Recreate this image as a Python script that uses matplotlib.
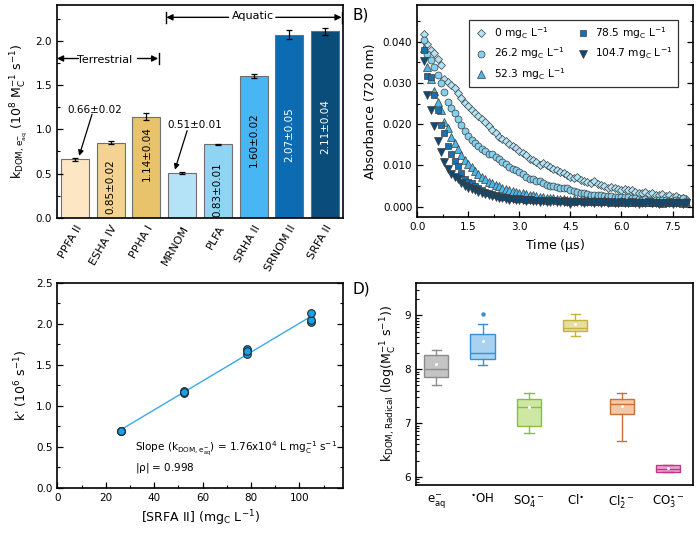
import numpy as np
import matplotlib
matplotlib.use('Agg')
import matplotlib.pyplot as plt
from matplotlib.ticker import MultipleLocator, FixedLocator, FormatStrFormatter

plt.rcParams['font.family'] = ['DejaVu Sans']
plt.rcParams['mathtext.default'] = 'regular'

# ---- panel A: bimolecular rate constants per isolate
isolates = ['PPFA II', 'ESHA IV', 'PPHA I', 'MRNOM', 'PLFA', 'SRHA II', 'SRNOM II', 'SRFA II']
k_dom = [0.66, 0.85, 1.14, 0.51, 0.83, 1.60, 2.07, 2.11]
k_err = [0.02, 0.02, 0.04, 0.01, 0.01, 0.02, 0.05, 0.04]
bar_colors = ['#fde6c3', '#f3d292', '#e9c36b', '#b4e3f8', '#8fd4f3', '#48b6f2', '#0b6cb4', '#0a4c7a']

# ---- panel B: transient absorbance decays
t_us = np.round(np.arange(0.2, 7.95, 0.1), 1)
conc_labels = ['0', '26.2', '52.3', '78.5', '104.7']
abs_0 = [0.0420, 0.0395, 0.0380, 0.0372, 0.0358, 0.0345, 0.0310, 0.0302, 0.0296, 0.0288,
         0.0276, 0.0264, 0.0252, 0.0244, 0.0235, 0.0227, 0.0220, 0.0212, 0.0206, 0.0196,
         0.0186, 0.0178, 0.0170, 0.0165, 0.0158, 0.0152, 0.0148, 0.0142, 0.0136, 0.0130,
         0.0124, 0.0116, 0.0112, 0.0108, 0.0100, 0.0106, 0.0102, 0.0096, 0.0092, 0.0088,
         0.0084, 0.0081, 0.0076, 0.0072, 0.0069, 0.0072, 0.0065, 0.0063, 0.0060, 0.0058,
         0.0061, 0.0055, 0.0052, 0.0050, 0.0045, 0.0047, 0.0044, 0.0042, 0.0041, 0.0043,
         0.0039, 0.0041, 0.0036, 0.0034, 0.0033, 0.0035, 0.0031, 0.0033, 0.0029, 0.0027,
         0.0030, 0.0026, 0.0028, 0.0023, 0.0025, 0.0020, 0.0021, 0.0018]
abs_26 = [0.0405, 0.0370, 0.0355, 0.0340, 0.0320, 0.0300, 0.0278, 0.0255, 0.0240, 0.0228,
          0.0212, 0.0198, 0.0184, 0.0172, 0.0162, 0.0154, 0.0146, 0.0140, 0.0134, 0.0128,
          0.0127, 0.0121, 0.0115, 0.0109, 0.0103, 0.0097, 0.0092, 0.0088, 0.0083, 0.0078,
          0.0072, 0.0068, 0.0066, 0.0063, 0.0061, 0.0057, 0.0053, 0.0051, 0.0049, 0.0048,
          0.0046, 0.0045, 0.0045, 0.0040, 0.0037, 0.0036, 0.0034, 0.0032, 0.0031, 0.0029,
          0.0028, 0.0028, 0.0027, 0.0026, 0.0025, 0.0025, 0.0024, 0.0023, 0.0022, 0.0024,
          0.0022, 0.0021, 0.0020, 0.0019, 0.0016, 0.0018, 0.0017, 0.0008, 0.0016, 0.0017,
          0.0015, 0.0016, 0.0014, 0.0013, 0.0015, 0.0014, 0.0020, 0.0014]
abs_52 = [0.0385, 0.0340, 0.0310, 0.0280, 0.0255, 0.0235, 0.0205, 0.0190, 0.0168, 0.0154,
          0.0140, 0.0125, 0.0114, 0.0104, 0.0095, 0.0086, 0.0078, 0.0071, 0.0066, 0.0060,
          0.0057, 0.0053, 0.0050, 0.0046, 0.0043, 0.0041, 0.0038, 0.0036, 0.0034, 0.0032,
          0.0030, 0.0029, 0.0028, 0.0026, 0.0024, 0.0023, 0.0021, 0.0020, 0.0020, 0.0019,
          0.0018, 0.0019, 0.0017, 0.0016, 0.0018, 0.0016, 0.0015, 0.0017, 0.0015, 0.0014,
          0.0016, 0.0014, 0.0013, 0.0015, 0.0013, 0.0012, 0.0014, 0.0012, 0.0013, 0.0011,
          0.0013, 0.0012, 0.0011, 0.0013, 0.0010, 0.0012, 0.0011, 0.0010, 0.0012, 0.0011,
          0.0009, 0.0011, 0.0010, 0.0012, 0.0010, 0.0011, 0.0009, 0.0010]
abs_78 = [0.0381, 0.0316, 0.0315, 0.0270, 0.0235, 0.0199, 0.0178, 0.0146, 0.0128, 0.0110,
          0.0098, 0.0081, 0.0068, 0.0060, 0.0057, 0.0050, 0.0045, 0.0041, 0.0036, 0.0033,
          0.0030, 0.0028, 0.0025, 0.0024, 0.0022, 0.0021, 0.0020, 0.0019, 0.0020, 0.0018,
          0.0017, 0.0019, 0.0016, 0.0017, 0.0015, 0.0016, 0.0014, 0.0015, 0.0016, 0.0013,
          0.0014, 0.0015, 0.0012, 0.0014, 0.0011, 0.0013, 0.0014, 0.0012, 0.0011, 0.0013,
          0.0012, 0.0010, 0.0012, 0.0013, 0.0011, 0.0012, 0.0010, 0.0011, 0.0012, 0.0010,
          0.0011, 0.0009, 0.0011, 0.0012, 0.0010, 0.0011, 0.0009, 0.0010, 0.0011, 0.0009,
          0.0010, 0.0011, 0.0009, 0.0010, 0.0008, 0.0010, 0.0009, 0.0010]
abs_104 = [0.0353, 0.0270, 0.0235, 0.0195, 0.0158, 0.0133, 0.0108, 0.0092, 0.0080, 0.0072,
           0.0066, 0.0056, 0.0049, 0.0046, 0.0042, 0.0040, 0.0036, 0.0032, 0.0030, 0.0028,
           0.0025, 0.0023, 0.0021, 0.0020, 0.0019, 0.0017, 0.0018, 0.0016, 0.0015, 0.0016,
           0.0014, 0.0015, 0.0013, 0.0014, 0.0012, 0.0013, 0.0012, 0.0011, 0.0013, 0.0011,
           0.0012, 0.0010, 0.0011, 0.0005, 0.0012, 0.0010, 0.0011, 0.0009, 0.0010, 0.0011,
           0.0009, 0.0010, 0.0008, 0.0010, 0.0009, 0.0011, 0.0009, 0.0008, 0.0010, 0.0009,
           0.0008, 0.0010, 0.0009, 0.0007, 0.0009, 0.0008, 0.0010, 0.0008, 0.0009, 0.0007,
           0.0009, 0.0008, 0.0009, 0.0007, 0.0008, 0.0009, 0.0007, 0.0008]
decays = [abs_0, abs_26, abs_52, abs_78, abs_104]
decay_markers = ['D', 'o', '^', 's', 'v']
decay_colors = ['#b0e4f6', '#86d0ee', '#4cb8ea', '#1b70b0', '#0e4a75']
decay_sizes = [4.4, 5.0, 5.2, 4.6, 5.2]

# ---- panel C: pseudo-first-order rate vs SRFA II concentration
srfa_conc = [26.2, 26.2, 26.2, 52.3, 52.3, 52.3, 78.5, 78.5, 78.5, 104.7, 104.7, 104.7]
k_prime = [0.69, 0.70, 0.70, 1.16, 1.18, 1.17, 1.64, 1.69, 1.67, 2.02, 2.05, 2.13]

# ---- panel D: log rate constants per radical
radicals = [r'e$^{-}_{aq}$', r'$^{\bullet}$OH', r'SO$_4^{\bullet-}$', r'Cl$^{\bullet}$',
            r'Cl$_2^{\bullet-}$', r'CO$_3^{\bullet-}$']
box_whislo = [7.71, 8.08, 6.81, 8.62, 6.66, 6.09]
box_q1 = [7.86, 8.19, 6.94, 8.70, 7.16, 6.09]
box_med = [8.00, 8.30, 7.29, 8.76, 7.35, 6.14]
box_q3 = [8.26, 8.66, 7.44, 8.92, 7.44, 6.23]
box_whishi = [8.35, 8.84, 7.56, 9.02, 7.55, 6.23]
box_mean = [8.09, 8.53, 7.30, 8.83, 7.32, 6.16]
box_fliers = [[], [9.03], [], [], [], []]
box_edge = ['#8c8c8c', '#3a8fd0', '#86c03a', '#c4b43a', '#c8703a', '#c4348a']
box_fill = ['#c4c4c4', '#a8d2f0', '#cfe7a4', '#e6dda2', '#f2c9a4', '#e8a6cb']

TICK_FS = 7.5
LABEL_FS = 9

fig = plt.figure(figsize=(7.0, 5.38), dpi=100)
axA = fig.add_axes([0.0814, 0.595, 0.4086, 0.395])
axB = fig.add_axes([0.596, 0.597, 0.394, 0.394])
axC = fig.add_axes([0.0819, 0.093, 0.4081, 0.381])
axD = fig.add_axes([0.594, 0.0985, 0.396, 0.3755])

for ax in (axA, axB, axC, axD):
    for sp in ax.spines.values():
        sp.set_linewidth(1.2)
    ax.tick_params(direction='in', labelsize=TICK_FS, width=0.9, length=4)
    ax.tick_params(which='minor', direction='in', width=0.8, length=2.5)

# ---------------- A
xpos = np.arange(len(isolates))
axA.bar(xpos, k_dom, width=0.78, color=bar_colors, edgecolor='#6f6f6f', linewidth=0.8,
        yerr=k_err, error_kw=dict(ecolor='black', elinewidth=0.9, capsize=2.2, capthick=0.9))
axA.set_xlim(-0.5, 7.5)
axA.set_ylim(0, 2.4)
axA.yaxis.set_major_locator(MultipleLocator(0.5))
axA.yaxis.set_minor_locator(MultipleLocator(0.25))
axA.yaxis.set_major_formatter(FormatStrFormatter('%.1f'))
axA.set_xticks(xpos)
axA.set_xticklabels(isolates, rotation=60, ha='right', rotation_mode='anchor', fontsize=8)
axA.tick_params(axis='x', length=0, pad=4)
axA.set_ylabel(r'k$_{DOM,e^{-}_{aq}}$ (10$^8$ M$_C^{-1}$ s$^{-1}$)', fontsize=LABEL_FS, labelpad=4)

# values written inside bars
inside = {1: 0.35, 2: 0.73, 4: 0.32, 5: 0.88, 6: 0.94, 7: 1.03}
for i, yc in inside.items():
    col = 'white' if i >= 6 else 'black'
    axA.text(i, yc, f'{k_dom[i]:.2f}\u00b1{k_err[i]:.2f}', rotation=90, ha='center', va='center',
             fontsize=7.5, color=col)

ptr = dict(arrowstyle='-|>', color='black', lw=0.9, mutation_scale=8, shrinkA=0, shrinkB=0)
axA.text(0.56, 1.22, f'{k_dom[0]:.2f}\u00b1{k_err[0]:.2f}', ha='center', va='center', fontsize=7.5)
axA.annotate('', xy=(0.12, 0.70), xytext=(0.48, 1.17), arrowprops=ptr)
axA.text(3.34, 1.05, f'{k_dom[3]:.2f}\u00b1{k_err[3]:.2f}', ha='center', va='center', fontsize=7.5)
axA.annotate('', xy=(2.8, 0.545), xytext=(3.14, 0.985), arrowprops=ptr)

# source ranges
arr = dict(arrowstyle='-|>', color='black', lw=1.0, mutation_scale=9, shrinkA=0, shrinkB=0)
axA.annotate('', xy=(-0.5, 1.80), xytext=(0.1, 1.80), arrowprops=arr)
axA.annotate('', xy=(2.33, 1.80), xytext=(1.75, 1.80), arrowprops=arr)
axA.plot([2.36, 2.36], [1.74, 1.86], color='black', lw=1.0)
axA.text(0.84, 1.78, 'Terrestrial', ha='center', va='center', fontsize=8)
axA.annotate('', xy=(2.56, 2.265), xytext=(4.3, 2.265), arrowprops=arr)
axA.annotate('', xy=(7.46, 2.265), xytext=(5.62, 2.265), arrowprops=arr)
axA.plot([2.55, 2.55], [2.20, 2.33], color='black', lw=1.0)
axA.plot([7.47, 7.47], [2.20, 2.33], color='black', lw=1.0)
axA.text(4.97, 2.275, 'Aquatic', ha='center', va='center', fontsize=8)

# ---------------- B
for lab, y, m, c, s in zip(conc_labels, decays, decay_markers, decay_colors, decay_sizes):
    axB.plot(t_us, y, linestyle='none', marker=m, markersize=s, markerfacecolor=c,
             markeredgecolor='#3c3c3c', markeredgewidth=0.5,
             label=lab + r' mg$_C$ L$^{-1}$')
axB.set_xlim(0, 8.1)
axB.set_ylim(-0.0025, 0.049)
axB.xaxis.set_major_locator(MultipleLocator(1.5))
axB.xaxis.set_minor_locator(MultipleLocator(0.75))
axB.xaxis.set_major_formatter(FormatStrFormatter('%.1f'))
axB.yaxis.set_major_locator(MultipleLocator(0.01))
axB.yaxis.set_minor_locator(MultipleLocator(0.005))
axB.yaxis.set_major_formatter(FormatStrFormatter('%.3f'))
axB.tick_params(which='both', right=True)
axB.set_xlabel(r'Time ($\mu$s)', fontsize=LABEL_FS)
axB.set_ylabel('Absorbance (720 nm)', fontsize=LABEL_FS)
leg = axB.legend(ncol=2, loc='upper right', bbox_to_anchor=(0.965, 0.955), fontsize=7.7,
                 frameon=True, fancybox=False, edgecolor='black', handletextpad=0.6,
                 columnspacing=1.0, borderpad=0.5, labelspacing=0.45, handlelength=1.2)
leg.get_frame().set_linewidth(0.9)

# ---------------- C
slope, icpt = np.polyfit(srfa_conc, k_prime, 1)
xfit = np.array([min(srfa_conc), max(srfa_conc)])
axC.plot(xfit, slope * xfit + icpt, color='#3aa8ea', lw=1.0, zorder=2)
axC.plot(srfa_conc, k_prime, linestyle='none', marker='o', markersize=5.5,
         markerfacecolor='#1c9fe4', markeredgecolor='#1e2a33', markeredgewidth=0.8, zorder=3)
axC.set_xlim(0, 118)
axC.set_ylim(0, 2.5)
axC.xaxis.set_major_locator(MultipleLocator(20))
axC.xaxis.set_minor_locator(MultipleLocator(10))
axC.yaxis.set_major_locator(MultipleLocator(0.5))
axC.yaxis.set_minor_locator(MultipleLocator(0.25))
axC.yaxis.set_major_formatter(FormatStrFormatter('%.1f'))
axC.tick_params(which='both', right=True)
axC.set_xlabel(r'[SRFA II] (mg$_C$ L$^{-1}$)', fontsize=LABEL_FS)
axC.set_ylabel(r"k' (10$^6$ s$^{-1}$)", fontsize=LABEL_FS)
axC.text(32, 0.48, r'Slope (k$_{DOM,e^{-}_{aq}}$) = 1.76x10$^4$ L mg$_C^{-1}$ s$^{-1}$',
         fontsize=7.5, va='center')
axC.text(32, 0.24, r'$|\rho|$ = 0.998', fontsize=7.5, va='center')

# ---------------- D
stats = []
for i in range(len(radicals)):
    stats.append(dict(med=box_med[i], q1=box_q1[i], q3=box_q3[i], whislo=box_whislo[i],
                      whishi=box_whishi[i], mean=box_mean[i], fliers=box_fliers[i]))
bpos = np.arange(1, len(radicals) + 1)
bp = axD.bxp(stats, positions=bpos, widths=0.52, patch_artist=True, showmeans=True,
             meanprops=dict(marker='o', markerfacecolor='white', markeredgecolor='none',
                            markersize=2.2))
for i in range(len(radicals)):
    bp['boxes'][i].set_facecolor(box_fill[i])
    bp['boxes'][i].set_edgecolor(box_edge[i])
    bp['boxes'][i].set_linewidth(1.0)
    bp['medians'][i].set_color(box_edge[i])
    bp['medians'][i].set_linewidth(1.0)
    for ln in bp['whiskers'][2 * i:2 * i + 2] + bp['caps'][2 * i:2 * i + 2]:
        ln.set_color(box_edge[i])
        ln.set_linewidth(1.0)
    fl = bp['fliers'][i]
    fl.set_marker('o')
    fl.set_markersize(2.2)
    fl.set_markerfacecolor(box_edge[i])
    fl.set_markeredgecolor(box_edge[i])
for cap in bp['caps']:
    xd = cap.get_xdata()
    mid = np.mean(xd)
    cap.set_xdata([mid - 0.1, mid + 0.1])
axD.set_xlim(0.56, 6.54)
axD.set_ylim(5.85, 9.6)
axD.set_xticks(bpos)
axD.set_xticklabels(radicals, fontsize=8.5)
axD.tick_params(axis='x', length=0, pad=6)
axD.yaxis.set_major_locator(FixedLocator([6, 7, 8, 9]))
minor_d = [n + np.log10(m) for n in range(5, 10) for m in range(2, 10)]
axD.yaxis.set_minor_locator(FixedLocator(minor_d))
axD.set_ylabel(r'k$_{DOM,Radical}$ (log(M$_C^{-1}$ s$^{-1}$))', fontsize=LABEL_FS)

fig.text(0.503, 0.972, 'B)', fontsize=11, va='center', ha='left')
fig.text(0.503, 0.462, 'D)', fontsize=11, va='center', ha='left')

fig.savefig('out.png', dpi=100)
